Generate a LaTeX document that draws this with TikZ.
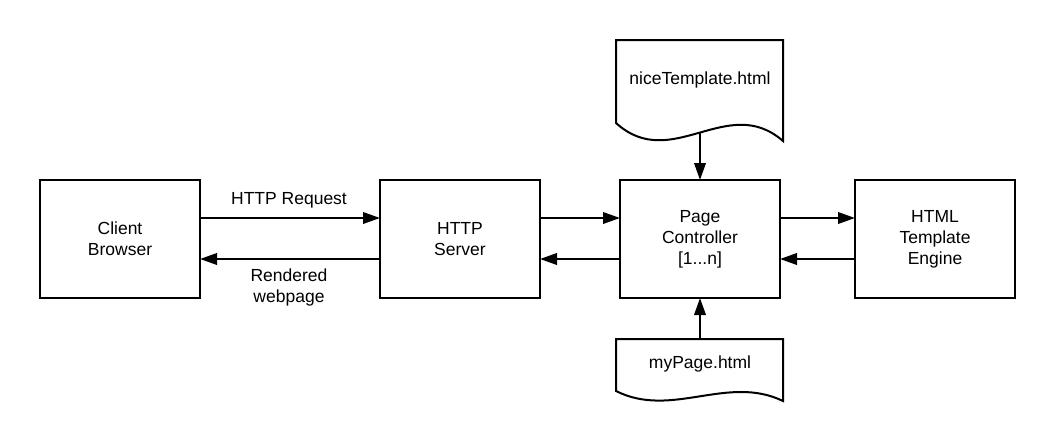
\documentclass[tikz,border=0pt]{standalone}
\usepackage{fontspec}
\setmainfont{Liberation Sans}
\usetikzlibrary{arrows.meta}
\begin{document}
\begin{tikzpicture}[x=1pt,y=-1pt,
  txt/.style={font=\fontsize{17.5}{21}\selectfont, align=center, inner sep=0pt},
  box/.style={txt, draw, line width=2pt, minimum width=160pt, minimum height=118pt, outer sep=0pt},
  arr/.style={line width=2pt, -{Triangle[length=17pt,width=11.5pt]}},
  docshape/.style={line width=2pt, line join=miter}]
\useasboundingbox (0,0) rectangle (1055,440);

% boxes
\node[box] (cb) at (120,239) {Client\\Browser};
\node[box] (hs) at (460,239) {HTTP\\Server};
\node[box] (pc) at (700,239) {Page\\Controller\\{[1...n]}};
\node[box] (te) at (935,239) {HTML\\Template\\Engine};

% documents
\draw[docshape] (616,40) -- (783,40) -- (783,141)
  .. controls (727.3,92.4) and (671.7,173.4) .. (616,123) -- cycle;
\node[txt] (nt) at (700,80) {niceTemplate.html};
\coordinate (ntout) at (700,133);

\draw[docshape] (616,339) -- (783,339) -- (783,401)
  .. controls (727.3,374) and (671.7,419) .. (616,391) -- cycle;
\node[txt] (mp) at (700,364) {myPage.html};
\coordinate (mpout) at (700,339);

% connectors
\draw[arr] ([yshift=21pt]cb.east) -- ([yshift=21pt]hs.west);
\draw[arr] ([yshift=-20pt]hs.west) -- ([yshift=-20pt]cb.east);
\draw[arr] ([yshift=21pt]hs.east) -- ([yshift=21pt]pc.west);
\draw[arr] ([yshift=-20pt]pc.west) -- ([yshift=-20pt]hs.east);
\draw[arr] ([yshift=21pt]pc.east) -- ([yshift=21pt]te.west);
\draw[arr] ([yshift=-20pt]te.west) -- ([yshift=-20pt]pc.east);
\draw[arr] (ntout) -- (pc.north);
\draw[arr] (mpout) -- (pc.south);

% labels
\node[txt] (lreq) at (289,200) {HTTP Request};
\node[txt] (lren) at (289,287) {Rendered\\webpage};
\end{tikzpicture}
\end{document}
